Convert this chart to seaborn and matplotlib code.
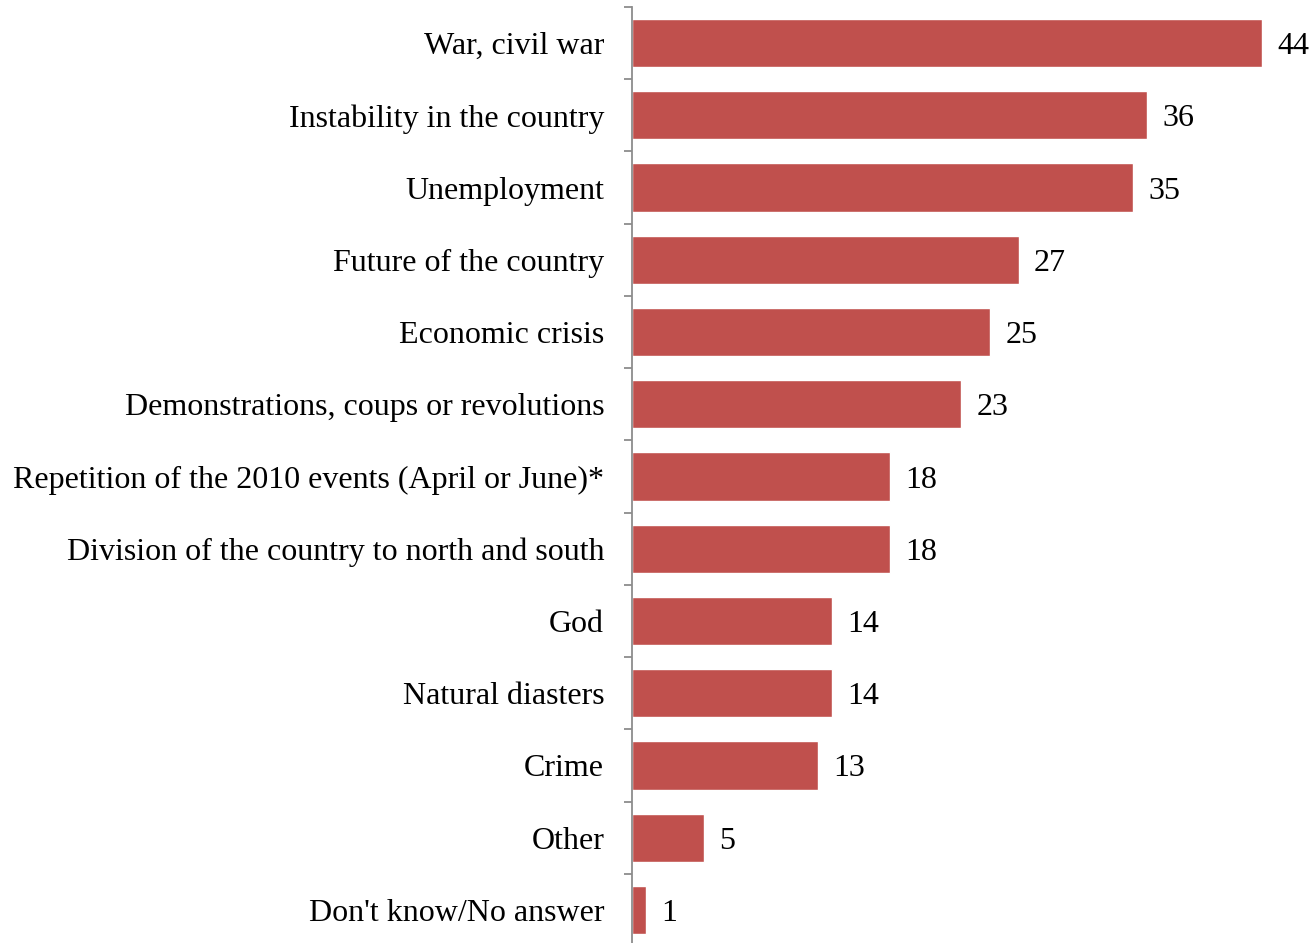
import matplotlib
matplotlib.use("Agg")
import matplotlib.pyplot as plt
import seaborn as sns
import numpy as np
import pandas as pd

categories = [
    "War, civil war",
    "Instability in the country",
    "Unemployment",
    "Future of the country",
    "Economic crisis",
    "Demonstrations, coups or revolutions",
    "Repetition of the 2010 events (April or June)*",
    "Division of the country to north and south",
    "God",
    "Natural diasters",
    "Crime",
    "Other",
    "Don't know/No answer",
]
values = [44, 36, 35, 27, 25, 23, 18, 18, 14, 14, 13, 5, 1]

sns.set_theme(style="white")
plt.rcParams['font.family'] = ['Liberation Serif', 'DejaVu Serif']

df = pd.DataFrame({"cat": categories, "val": values})

fig = plt.figure(figsize=(13.15, 9.43), dpi=100)
ax = fig.add_axes([632/1315, -3/943, (1262-632)/1315, (946-7)/943])

sns.barplot(data=df, x="val", y="cat", orient="h", color="#C0504D",
            saturation=1, width=0.667, ax=ax)

ax.set_xlim(0, 44)
ax.set_ylim(len(categories) - 0.5, -0.5)
ax.set_xlabel("")
ax.set_ylabel("")
ax.xaxis.set_visible(False)

for s in ["top", "right", "bottom"]:
    ax.spines[s].set_visible(False)
ax.spines["left"].set_color("#8c8c8c")
ax.spines["left"].set_linewidth(1.3)

ax.tick_params(axis="y", which="major", length=0, pad=20, labelsize=23,
               labelcolor="black")
ax.set_yticks(np.arange(-0.5, len(categories) + 0.5, 1), minor=True)
ax.tick_params(axis="y", which="minor", left=True, length=6, width=1.3,
               color="#8c8c8c", direction="out")

for c in ax.containers:
    texts = ax.bar_label(c, labels=[str(v) for v in values], padding=11,
                         fontsize=23, color="black", clip_on=False)
    for t in texts:
        t.set_va("center_baseline")

fig.savefig("out.png", dpi=100)
